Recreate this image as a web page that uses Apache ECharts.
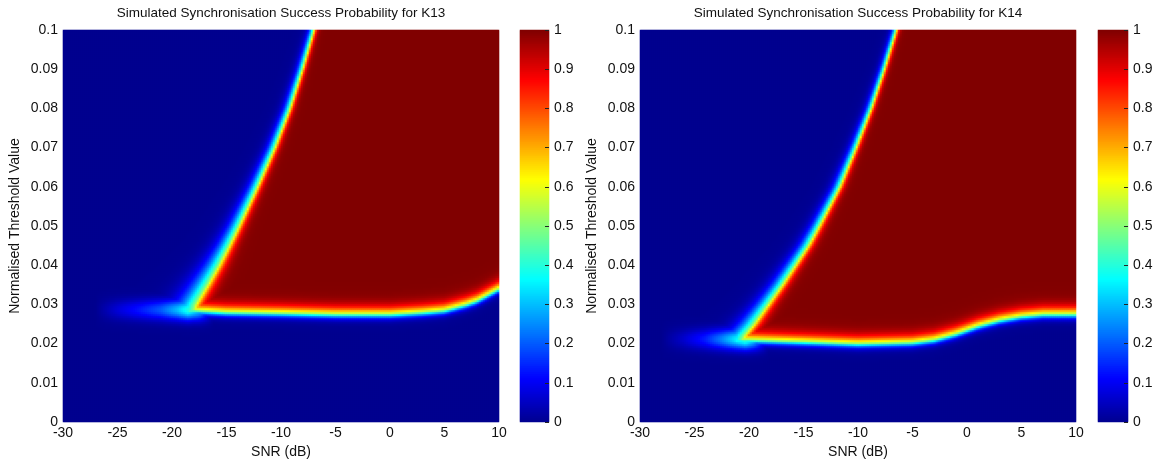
<!DOCTYPE html>
<html><head><meta charset="utf-8">
<script src="https://cdn.jsdelivr.net/npm/echarts@6/dist/echarts.min.js"></script>
<style>html,body{margin:0;padding:0;background:#fff}#c{width:1156px;height:464px}</style>
</head><body><div id="c"></div>
<script>
// ---------- tick labels ----------
const xTicks = [-30, -25, -20, -15, -10, -5, 0, 5, 10];
const yTicks = [0, 0.01, 0.02, 0.03, 0.04, 0.05, 0.06, 0.07, 0.08, 0.09, 0.1];
const cbTicks = [0, 0.1, 0.2, 0.3, 0.4, 0.5, 0.6, 0.7, 0.8, 0.9, 1];

// ---------- K13: values ----------
// left (rising) edge of the success region: SNR where P = 0.5, per threshold
const k13EdgeThr = [0.026, 0.030, 0.035, 0.040, 0.045, 0.050, 0.060, 0.070, 0.080, 0.090, 0.100];
const k13EdgeSnr = [-18.3, -17.9, -16.8, -15.75, -14.8, -13.9, -12.2, -10.6, -9.2, -8.05, -7.0];
const k13EdgeBlue = [1.0, 0.95, 0.85, 0.72, 0.6, 0.52, 0.42, 0.35, 0.3, 0.26, 0.23];
const k13EdgeRed = [0.5, 0.45, 0.42, 0.38, 0.33, 0.3, 0.26, 0.23, 0.2, 0.18, 0.17];
// lower (floor) edge: threshold where P = 0.5, per SNR
const k13FloorSnr = [-30, -18, -15, -10, -5, 0, 3, 5, 7, 8, 9, 10];
const k13FloorThr = [0.0285, 0.0285, 0.028, 0.0278, 0.0275, 0.0275, 0.028, 0.0285, 0.030, 0.031, 0.0325, 0.034];
// faint tail left of the corner
const k13HaloSnr = [-27, -25, -23, -21, -19.5, -18.5, -17.5, -16];
const k13HaloVal = [0, 0.07, 0.13, 0.2, 0.3, 0.4, 0.3, 0];

// ---------- K14: values ----------
const k14EdgeThr = [0.019, 0.022, 0.025, 0.030, 0.035, 0.040, 0.045, 0.050, 0.060, 0.070, 0.080, 0.090, 0.100];
const k14EdgeSnr = [-20.9, -20.5, -19.6, -18.3, -17.0, -15.8, -14.6, -13.6, -11.7, -10.2, -8.8, -7.6, -6.5];
const k14EdgeBlue = [0.9, 0.85, 0.75, 0.62, 0.55, 0.5, 0.45, 0.4, 0.34, 0.29, 0.25, 0.22, 0.2];
const k14EdgeRed = [0.45, 0.42, 0.4, 0.36, 0.33, 0.31, 0.29, 0.27, 0.23, 0.2, 0.18, 0.17, 0.16];
const k14FloorSnr = [-30, -20.5, -15, -10, -5, -3, -1, 0, 1, 3, 5, 7, 10];
const k14FloorThr = [0.021, 0.021, 0.0205, 0.0200, 0.0203, 0.021, 0.0225, 0.0235, 0.0245, 0.026, 0.027, 0.0275, 0.0275];
const k14HaloSnr = [-28, -26, -24, -22.5, -21.2, -20.3, -19.5, -18];
const k14HaloVal = [0, 0.06, 0.14, 0.24, 0.35, 0.42, 0.3, 0];

// ---------- grid of cells (cell centres) ----------
const NX = 218, NY = 196, NC = 196;
const snrCats = []; for (let k = 0; k < NX; k++) snrCats.push(+(-30 + (k + 0.5) * 40 / NX).toFixed(4));
const thrCats = []; for (let k = 0; k < NY; k++) thrCats.push(+((k + 0.5) * 0.1 / NY).toFixed(6));
const cbCats = []; for (let k = 0; k < NC; k++) cbCats.push(+((k + 0.5) / NC).toFixed(4));

function interp(xs, ys, x) {
  if (x <= xs[0]) return ys[0];
  if (x >= xs[xs.length - 1]) return ys[ys.length - 1];
  for (let i = 1; i < xs.length; i++) {
    if (x <= xs[i]) { const f = (x - xs[i - 1]) / (xs[i] - xs[i - 1]); return ys[i - 1] + f * (ys[i] - ys[i - 1]); }
  }
  return ys[ys.length - 1];
}
function sig(z) { return 1 / (1 + Math.exp(-z)); }
function buildCells(eT, eS, eB, eR, fS, fT, hS, hV) {
  const out = [];
  for (let i = 0; i < snrCats.length; i++) {
    const s = snrCats[i];
    const f = interp(fS, fT, s);
    const hA = interp(hS, hV, s);
    for (let j = 0; j < thrCats.length; j++) {
      const t = thrCats[j];
      const e = interp(eT, eS, t);
      const w = s < e ? interp(eT, eB, t) : interp(eT, eR, t);
      const pl = sig((s - e) / w);
      const pf = sig((t - f) / (t < f ? 0.0006 : 0.0011));
      let p = Math.min(pl, pf);
      const h = hA * Math.exp(-0.5 * Math.pow((t - f - 0.0002) / 0.0018, 2));
      p = Math.max(p, h);
      out.push([i, j, +p.toFixed(3)]);
    }
  }
  return out;
}
const k13Cells = buildCells(k13EdgeThr, k13EdgeSnr, k13EdgeBlue, k13EdgeRed, k13FloorSnr, k13FloorThr, k13HaloSnr, k13HaloVal);
const k14Cells = buildCells(k14EdgeThr, k14EdgeSnr, k14EdgeBlue, k14EdgeRed, k14FloorSnr, k14FloorThr, k14HaloSnr, k14HaloVal);
const cbCells = cbCats.map((v, j) => [0, j, v]);

// ---------- jet(64) colormap ----------
function jet(n) {
  const m = Math.ceil(n / 4), u = [];
  for (let i = 1; i <= m; i++) u.push(i / m);
  for (let i = 0; i < m - 1; i++) u.push(1);
  for (let i = m; i >= 1; i--) u.push(i / m);
  const J = Array.from({ length: n }, () => [0, 0, 0]);
  const g0 = Math.ceil(m / 2) - ((n % 4) === 1 ? 1 : 0);
  for (let k = 0; k < u.length; k++) {
    const g = g0 + k + 1, r = g + m, b = g - m;
    if (g >= 1 && g <= n) J[g - 1][1] = u[k];
    if (r >= 1 && r <= n) J[r - 1][0] = u[k];
    if (b >= 1 && b <= n) J[b - 1][2] = u[k];
  }
  return J.map(c => 'rgb(' + c.map(x => Math.round(x * 255)).join(',') + ')');
}

const FONT = 'Liberation Sans, Arial, sans-serif';
const TXT = '#111';
const FS = 14;
const P1 = { left: 63, top: 30, width: 436, height: 392 };
const C1 = { left: 520, top: 30, width: 29, height: 392 };
const P2 = { left: 640, top: 30, width: 436, height: 392 };
const C2 = { left: 1098, top: 30, width: 30, height: 392 };

function hiddenCat(gridIndex, data) {
  return { type: 'category', gridIndex, data, show: false, boundaryGap: true };
}
function valX(gridIndex) {
  return {
    type: 'value', gridIndex, min: xTicks[0], max: xTicks[xTicks.length - 1], interval: 5,
    name: 'SNR (dB)', nameLocation: 'middle', nameGap: 21,
    nameTextStyle: { fontFamily: FONT, fontSize: FS, color: TXT },
    axisLine: { show: false }, axisTick: { show: false }, splitLine: { show: false },
    axisLabel: { fontFamily: FONT, fontSize: FS, color: TXT, margin: 4 }
  };
}
function valY(gridIndex) {
  return {
    type: 'value', gridIndex, min: yTicks[0], max: yTicks[yTicks.length - 1], interval: 0.01,
    name: 'Normalised Threshold Value', nameLocation: 'middle', nameGap: 41, nameRotate: 90,
    nameTextStyle: { fontFamily: FONT, fontSize: FS, color: TXT },
    axisLine: { show: false }, axisTick: { show: false }, splitLine: { show: false },
    axisLabel: { fontFamily: FONT, fontSize: FS, color: TXT, margin: 5, formatter: v => String(+v.toFixed(2)) }
  };
}
function cbY(gridIndex) {
  return {
    type: 'value', gridIndex, position: 'right', min: cbTicks[0], max: cbTicks[cbTicks.length - 1], interval: 0.1, z: 10,
    axisLine: { show: false }, splitLine: { show: false },
    axisTick: { show: true, inside: true, length: 4, lineStyle: { color: '#222', width: 1 } },
    axisLabel: { fontFamily: FONT, fontSize: FS, color: TXT, margin: 5, formatter: v => String(+v.toFixed(1)) }
  };
}

const chart = echarts.init(document.getElementById('c'), null, { renderer: 'canvas' });
chart.setOption({
  animation: false,
  backgroundColor: '#ffffff',
  grid: [P1, P1, C1, P2, P2, C2],
  xAxis: [
    hiddenCat(0, snrCats), valX(1), hiddenCat(2, ['c']),
    hiddenCat(3, snrCats), valX(4), hiddenCat(5, ['c'])
  ],
  yAxis: [
    hiddenCat(0, thrCats), valY(1), hiddenCat(2, cbCats),
    hiddenCat(3, thrCats), valY(4), hiddenCat(5, cbCats),
    cbY(2), cbY(5)
  ],
  visualMap: {
    type: 'continuous', min: 0, max: 1, show: false, seriesIndex: [0, 1, 2, 3],
    inRange: { color: jet(64) }
  },
  graphic: [
    { type: 'text', x: P1.left + P1.width / 2, y: 13, silent: true,
      style: { text: 'Simulated Synchronisation Success Probability for K13', align: 'center', verticalAlign: 'middle', font: '13.5px ' + FONT, fill: TXT } },
    { type: 'text', x: P2.left + P2.width / 2, y: 13, silent: true,
      style: { text: 'Simulated Synchronisation Success Probability for K14', align: 'center', verticalAlign: 'middle', font: '13.5px ' + FONT, fill: TXT } }
  ],
  series: [
    { type: 'heatmap', xAxisIndex: 0, yAxisIndex: 0, data: k13Cells, progressive: 0, silent: true, emphasis: { disabled: true } },
    { type: 'heatmap', xAxisIndex: 2, yAxisIndex: 2, data: cbCells, progressive: 0, silent: true, emphasis: { disabled: true } },
    { type: 'heatmap', xAxisIndex: 3, yAxisIndex: 3, data: k14Cells, progressive: 0, silent: true, emphasis: { disabled: true } },
    { type: 'heatmap', xAxisIndex: 5, yAxisIndex: 5, data: cbCells, progressive: 0, silent: true, emphasis: { disabled: true } }
  ]
});
</script></body></html>
